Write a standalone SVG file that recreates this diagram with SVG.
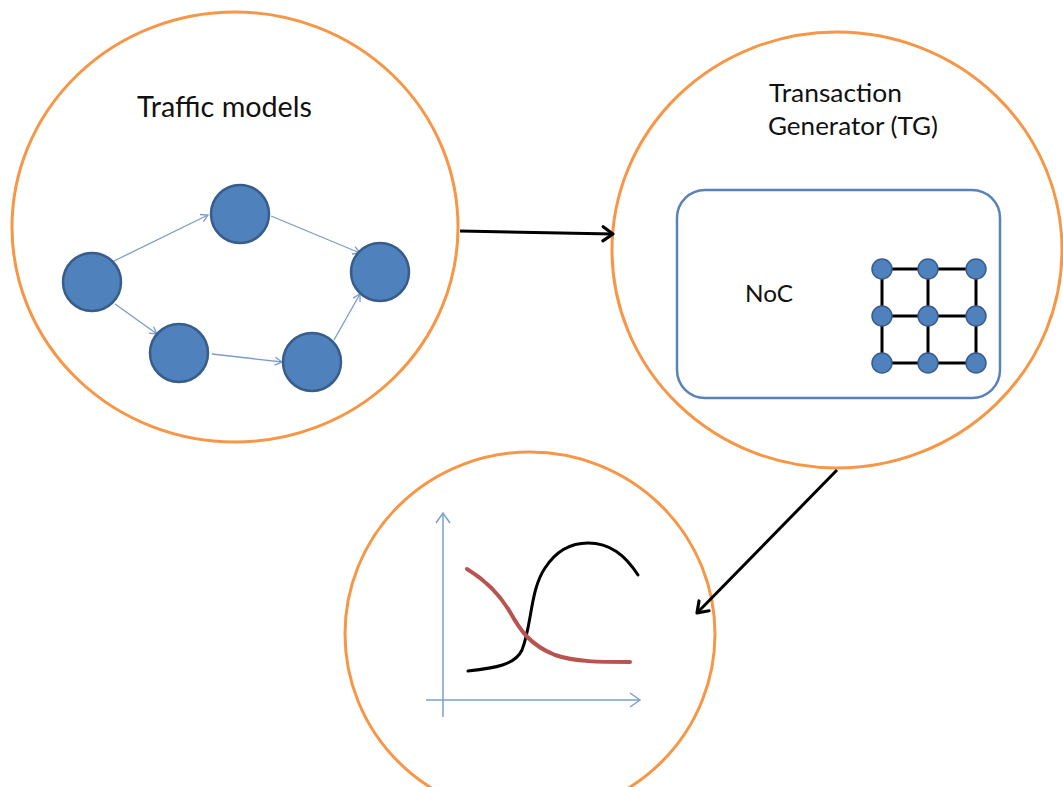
<svg xmlns="http://www.w3.org/2000/svg" width="1063" height="787" viewBox="0 0 1063 787">
  <style>
    .stage { fill: #ffffff; stroke: #F79646; stroke-width: 3; }
    .tm-node { fill: #4F81BD; stroke: #385D8A; stroke-width: 2.5; }
    .mesh-node { fill: #4F81BD; stroke: #385D8A; stroke-width: 1.5; }
    .mesh-link { stroke: #000000; stroke-width: 3; fill: none; }
    .tm-edge { stroke: #7A9CCB; stroke-width: 1.3; fill: none; }
    .flow { stroke: #000000; stroke-width: 3; fill: none; }
    .axis { stroke: #7BA0CD; stroke-width: 1.5; fill: none; }
    .label { font-family: Lato, "Liberation Sans", sans-serif; fill: #111111; }
  </style>
  <defs>
    <marker id="open-black" markerUnits="userSpaceOnUse" markerWidth="20" markerHeight="20" refX="14" refY="10" orient="auto">
      <path d="M4,3 L14,10 L4,17" fill="none" stroke="#000" stroke-width="3.2" stroke-linecap="round" stroke-linejoin="round"/>
    </marker>
    <marker id="open-blue" markerUnits="userSpaceOnUse" markerWidth="14" markerHeight="14" refX="11" refY="7" orient="auto">
      <path d="M4,3 L11,7 L4,11" fill="none" stroke="#7A9CCB" stroke-width="1.3"/>
    </marker>
    <marker id="open-axis" markerUnits="userSpaceOnUse" markerWidth="18" markerHeight="18" refX="14" refY="9" orient="auto">
      <path d="M4,2 L14,9 L4,16" fill="none" stroke="#7BA0CD" stroke-width="1.5"/>
    </marker>
  </defs>

  <rect width="1063" height="787" fill="#ffffff"/>

  <!-- Traffic models stage -->
  <g id="traffic-models">
    <ellipse class="stage" cx="235" cy="227" rx="223" ry="215"/>
    <text class="label" x="137" y="117" font-size="29" textLength="175" lengthAdjust="spacingAndGlyphs">Traffic models</text>
    <g id="tm-edges">
      <line class="tm-edge" x1="114" y1="261" x2="208" y2="215" marker-end="url(#open-blue)"/>
      <line class="tm-edge" x1="271" y1="216" x2="360" y2="253" marker-end="url(#open-blue)"/>
      <line class="tm-edge" x1="115" y1="304" x2="157" y2="334" marker-end="url(#open-blue)"/>
      <line class="tm-edge" x1="212" y1="354" x2="282" y2="362" marker-end="url(#open-blue)"/>
      <line class="tm-edge" x1="334" y1="340" x2="360" y2="294" marker-end="url(#open-blue)"/>
    </g>
    <circle class="tm-node" cx="92" cy="282" r="29"/>
    <circle class="tm-node" cx="240" cy="214" r="29"/>
    <circle class="tm-node" cx="380" cy="272" r="29"/>
    <circle class="tm-node" cx="179" cy="353" r="29"/>
    <circle class="tm-node" cx="312" cy="362" r="29"/>
  </g>

  <!-- Transaction generator stage -->
  <g id="transaction-generator">
    <ellipse class="stage" cx="837" cy="250" rx="225" ry="218"/>
    <text class="label" x="769" y="102" font-size="25" textLength="133" lengthAdjust="spacingAndGlyphs">Transaction</text>
    <text class="label" x="768" y="135" font-size="25" textLength="170" lengthAdjust="spacingAndGlyphs">Generator (TG)</text>
    <g id="noc">
      <rect x="677" y="190" width="323" height="208" rx="28" ry="28" fill="#ffffff" stroke="#5B82B8" stroke-width="2.5"/>
      <text class="label" x="745" y="302" font-size="24" textLength="48" lengthAdjust="spacingAndGlyphs">NoC</text>
      <g id="mesh">
        <path class="mesh-link" d="M882,269 H976 M882,316 H976 M882,363 H976 M882,269 V363 M928,269 V363 M976,269 V363"/>
        <circle class="mesh-node" cx="882" cy="269" r="10"/>
        <circle class="mesh-node" cx="928" cy="269" r="10"/>
        <circle class="mesh-node" cx="976" cy="269" r="10"/>
        <circle class="mesh-node" cx="882" cy="316" r="10"/>
        <circle class="mesh-node" cx="928" cy="316" r="10"/>
        <circle class="mesh-node" cx="976" cy="316" r="10"/>
        <circle class="mesh-node" cx="882" cy="363" r="10"/>
        <circle class="mesh-node" cx="928" cy="363" r="10"/>
        <circle class="mesh-node" cx="976" cy="363" r="10"/>
      </g>
    </g>
  </g>

  <!-- Results stage -->
  <g id="results">
    <ellipse class="stage" cx="530" cy="634" rx="185" ry="182"/>
    <line class="axis" x1="443" y1="717" x2="443" y2="513" marker-end="url(#open-axis)"/>
    <line class="axis" x1="426" y1="700" x2="640" y2="700" marker-end="url(#open-axis)"/>
    <path d="M468,671 C495,668 515,665 522,650 C532,625 530,590 545,568 C558,548 575,543 588,543 C610,543 625,555 638,575" fill="none" stroke="#000000" stroke-width="3" stroke-linecap="round"/>
    <path d="M467,569 C485,580 500,595 510,612 C520,630 530,645 555,655 C575,662 600,662 630,662" fill="none" stroke="#B85450" stroke-width="4" stroke-linecap="round"/>
  </g>

  <!-- Flow between stages -->
  <g id="connectors">
    <line class="flow" x1="460" y1="231" x2="613" y2="234" marker-end="url(#open-black)"/>
    <line class="flow" x1="837" y1="470" x2="697" y2="613" marker-end="url(#open-black)"/>
  </g>
</svg>
